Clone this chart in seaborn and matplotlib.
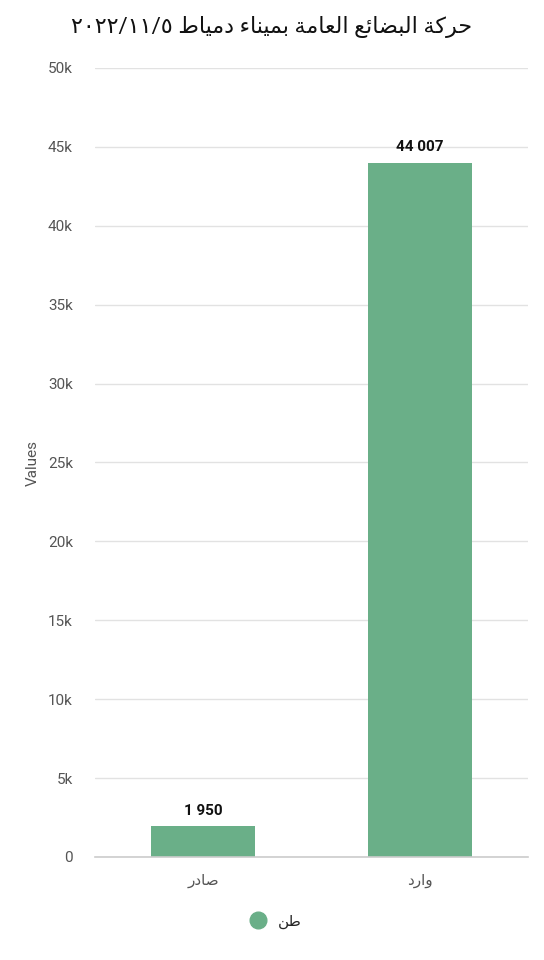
import re
import matplotlib
matplotlib.use("Agg")
import matplotlib.pyplot as plt
from matplotlib.lines import Line2D
from matplotlib.ticker import FuncFormatter, MultipleLocator
import seaborn as sns
import pandas as pd

# ---- data ----
title_text = "حركة البضائع العامة بميناء دمياط ٢٠٢٢/١١/٥"
categories = ["صادر", "وارد"]
values = [1950, 44007]
series_name = "طن"
y_label = "Values"

# ---- minimal Arabic shaping (presentation forms + visual order) ----
DUAL = {'ئ': 0xFE89, 'ب': 0xFE8F, 'ح': 0xFEA1, 'ص': 0xFEB9, 'ض': 0xFEBD, 'ط': 0xFEC1,
        'ع': 0xFEC9, 'ك': 0xFED9, 'ل': 0xFEDD, 'م': 0xFEE1, 'ن': 0xFEE5, 'ي': 0xFEF1}
RIGHT = {'ا': 0xFE8D, 'ة': 0xFE93, 'د': 0xFEA9, 'ر': 0xFEAD, 'و': 0xFEED}
NONE = {'ء': 0xFE80}


def shape(text):
    out = []
    n = len(text)
    for i, ch in enumerate(text):
        prev = text[i - 1] if i > 0 else ''
        nxt = text[i + 1] if i < n - 1 else ''
        if ch in DUAL or ch in RIGHT:
            jp = prev in DUAL
            jn = ch in DUAL and (nxt in DUAL or nxt in RIGHT)
            base = DUAL.get(ch, RIGHT.get(ch))
            if jp and jn:
                code = base + 3
            elif jn:
                code = base + 2
            elif jp:
                code = base + 1
            else:
                code = base
            out.append(chr(code))
        elif ch in NONE:
            out.append(chr(NONE[ch]))
        else:
            out.append(ch)
    vis = ''.join(out)[::-1]
    vis = re.sub(r'[0-9\u0660-\u0669/]+', lambda m: m.group(0)[::-1], vis)
    return vis


sns.set_theme(style="white")
plt.rcParams['font.family'] = ['Roboto', 'DejaVu Sans']

bar_color = "#6aaf88"
df = pd.DataFrame({"cat": [shape(c) for c in categories], "val": values})

fig = plt.figure(figsize=(5.44, 9.6), dpi=100)
ax = fig.add_axes([95 / 544, 103 / 960, 433 / 544, 789 / 960])

sns.barplot(data=df, x="cat", y="val", color=bar_color, width=0.48, ax=ax,
            saturation=1, linewidth=0, zorder=3)

ax.set_ylim(0, 50000)
ax.set_xlim(-0.5, 1.5)
ax.yaxis.set_major_locator(MultipleLocator(5000))
ax.yaxis.set_major_formatter(FuncFormatter(lambda v, p: "0" if v == 0 else f"{int(v/1000)}k"))
ax.grid(axis="y", color="#e2e2e2", linewidth=1, zorder=0)
ax.grid(axis="x", visible=False)
for s in ["top", "right", "left"]:
    ax.spines[s].set_visible(False)
ax.spines["bottom"].set_color("#cccccc")
ax.spines["bottom"].set_linewidth(1.2)
ax.spines["bottom"].set_zorder(4)
ax.tick_params(axis="y", length=0, pad=16, labelsize=11, labelcolor="#555555")
ax.tick_params(axis="x", length=0, pad=12, labelsize=11, labelcolor="#555555")
ax.set_xlabel("")
ax.set_ylabel(y_label, fontsize=11, color="#555555", labelpad=6)

for p, v in zip(ax.patches, values):
    ax.annotate(f"{v:,}".replace(",", " "),
                (p.get_x() + p.get_width() / 2, p.get_height()),
                xytext=(0, 6), textcoords="offset points",
                ha="center", va="bottom", fontsize=11, fontweight="bold", color="#111111")

fig.text(0.5, 0.972, shape(title_text), ha="center", va="center", fontsize=16, color="#111111")

handle = Line2D([], [], marker="o", linestyle="none", markersize=12,
                markerfacecolor=bar_color, markeredgecolor=bar_color)
fig.legend([handle], [shape(series_name)], loc="center", bbox_to_anchor=(0.5, 0.04),
           frameon=False, fontsize=11, handletextpad=0.3)

fig.savefig("out.png", dpi=100)
